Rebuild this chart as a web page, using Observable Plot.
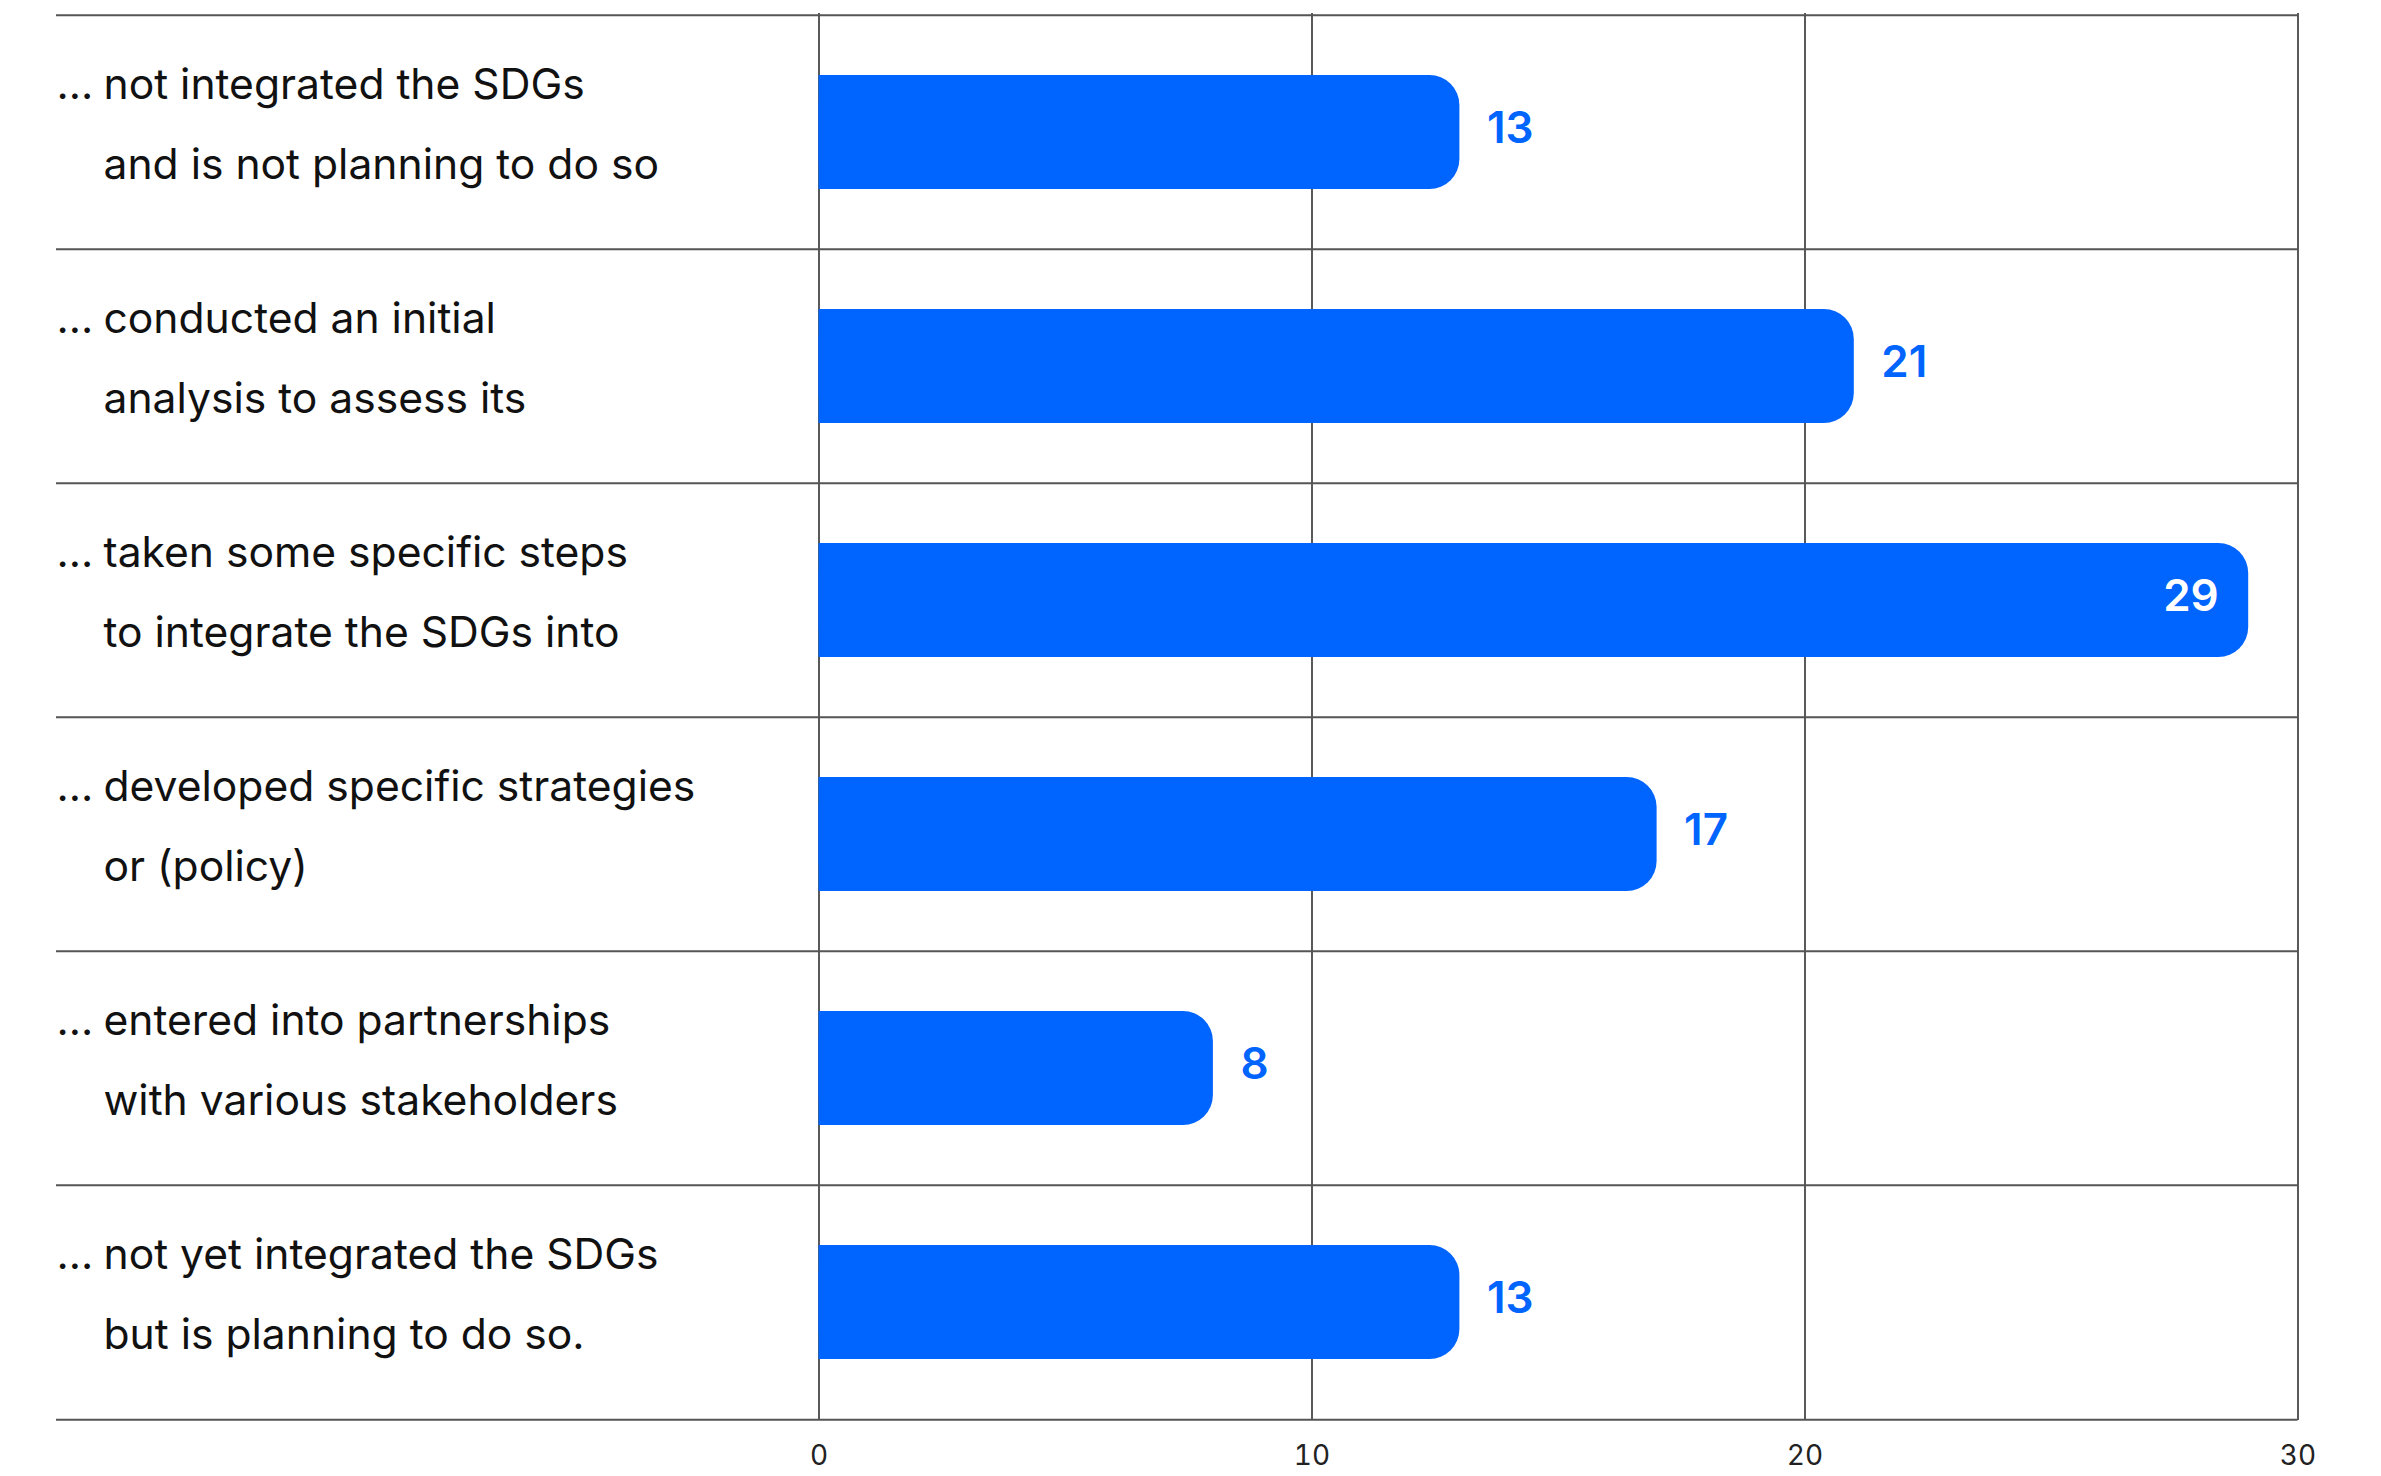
<!DOCTYPE html>
<html>
<head>
<meta charset="utf-8">
<script src="https://cdn.jsdelivr.net/npm/d3@7"></script>
<script src="https://cdn.jsdelivr.net/npm/@observablehq/plot@0.6"></script>
<style>
  html, body { margin: 0; padding: 0; background: #fff; }
  #chart svg { display: block; }
</style>
</head>
<body>
<div id="chart"></div>
<script>
const categories = ["c1", "c2", "c3", "c4", "c5", "c6"];
const labelLine1 = [
  "not integrated the SDGs",
  "conducted an initial",
  "taken some specific steps",
  "developed specific strategies",
  "entered into partnerships",
  "not yet integrated the SDGs"
];
const labelLine2 = [
  "and is not planning to do so",
  "analysis to assess its",
  "to integrate the SDGs into",
  "or (policy)",
  "with various stakeholders",
  "but is planning to do so."
];
const values = [13, 21, 29, 17, 8, 13];
const xTicks = [0, 10, 20, 30];

const data = categories.map((c, i) => ({cat: c, l1: labelLine1[i], l2: labelLine2[i], value: values[i]}));

const W = 2381, H = 1476;
const mL = 818.5, mR = 83.5, mT = 13, mB = 56;
const band = (H - mT - mB) / categories.length;
const blue = "#0064ff";
const font = "Inter, 'Noto Sans', sans-serif";

const chart = Plot.plot({
  width: W,
  height: H,
  marginLeft: mL,
  marginRight: mR,
  marginTop: mT,
  marginBottom: mB,
  style: {fontFamily: font, background: "#fff"},
  x: {domain: [0, 30], ticks: xTicks, label: null},
  y: {domain: categories, padding: 0, axis: null},
  marks: [
    Plot.gridX(xTicks, {stroke: "#000", strokeOpacity: 1, strokeWidth: 1.3}),
    Plot.ruleY(data, {y: "cat", dy: -band / 2, stroke: "#555", strokeWidth: 2, insetLeft: -(mL - 56)}),
    Plot.ruleY(data.slice(-1), {y: "cat", dy: band / 2, stroke: "#555", strokeWidth: 2, insetLeft: -(mL - 56)}),
    Plot.barX(data, {x1: 0, x2: "value", y: "cat", fill: blue, insetTop: 60, insetBottom: 60, rx: 30}),
    Plot.barX(data, {x1: 0, x2: d => d.value / 2, y: "cat", fill: blue, insetTop: 60, insetBottom: 60}),
    Plot.text(data.filter(d => d.value < 25), {
      x: "value", y: "cat", text: d => String(d.value), textAnchor: "start", dx: 27, dy: -4,
      fill: blue, fontSize: 44, fontWeight: 600
    }),
    Plot.text(data.filter(d => d.value >= 25), {
      x: "value", y: "cat", text: d => String(d.value), textAnchor: "end", dx: -30, dy: -4,
      fill: "#fff", fontSize: 44, fontWeight: 600
    }),
    Plot.text(data, {
      y: "cat", frameAnchor: "left", textAnchor: "start", dx: -(mL - 56), dy: -19,
      text: d => "...\n\u00a0", lineHeight: 1.88, lineAnchor: "middle",
      fill: "#111", fontSize: 42.6
    }),
    Plot.text(data, {
      y: "cat", frameAnchor: "left", textAnchor: "start", dx: -(mL - 103), dy: -19,
      text: d => d.l1 + "\n" + d.l2, lineHeight: 1.88, lineAnchor: "middle",
      fill: "#111", fontSize: 42.6
    }),
    Plot.axisX(xTicks, {tickSize: 0, tickPadding: 25, fontSize: 28, fill: "#222", label: null})
  ]
});
document.getElementById("chart").appendChild(chart);
</script>
</body>
</html>
